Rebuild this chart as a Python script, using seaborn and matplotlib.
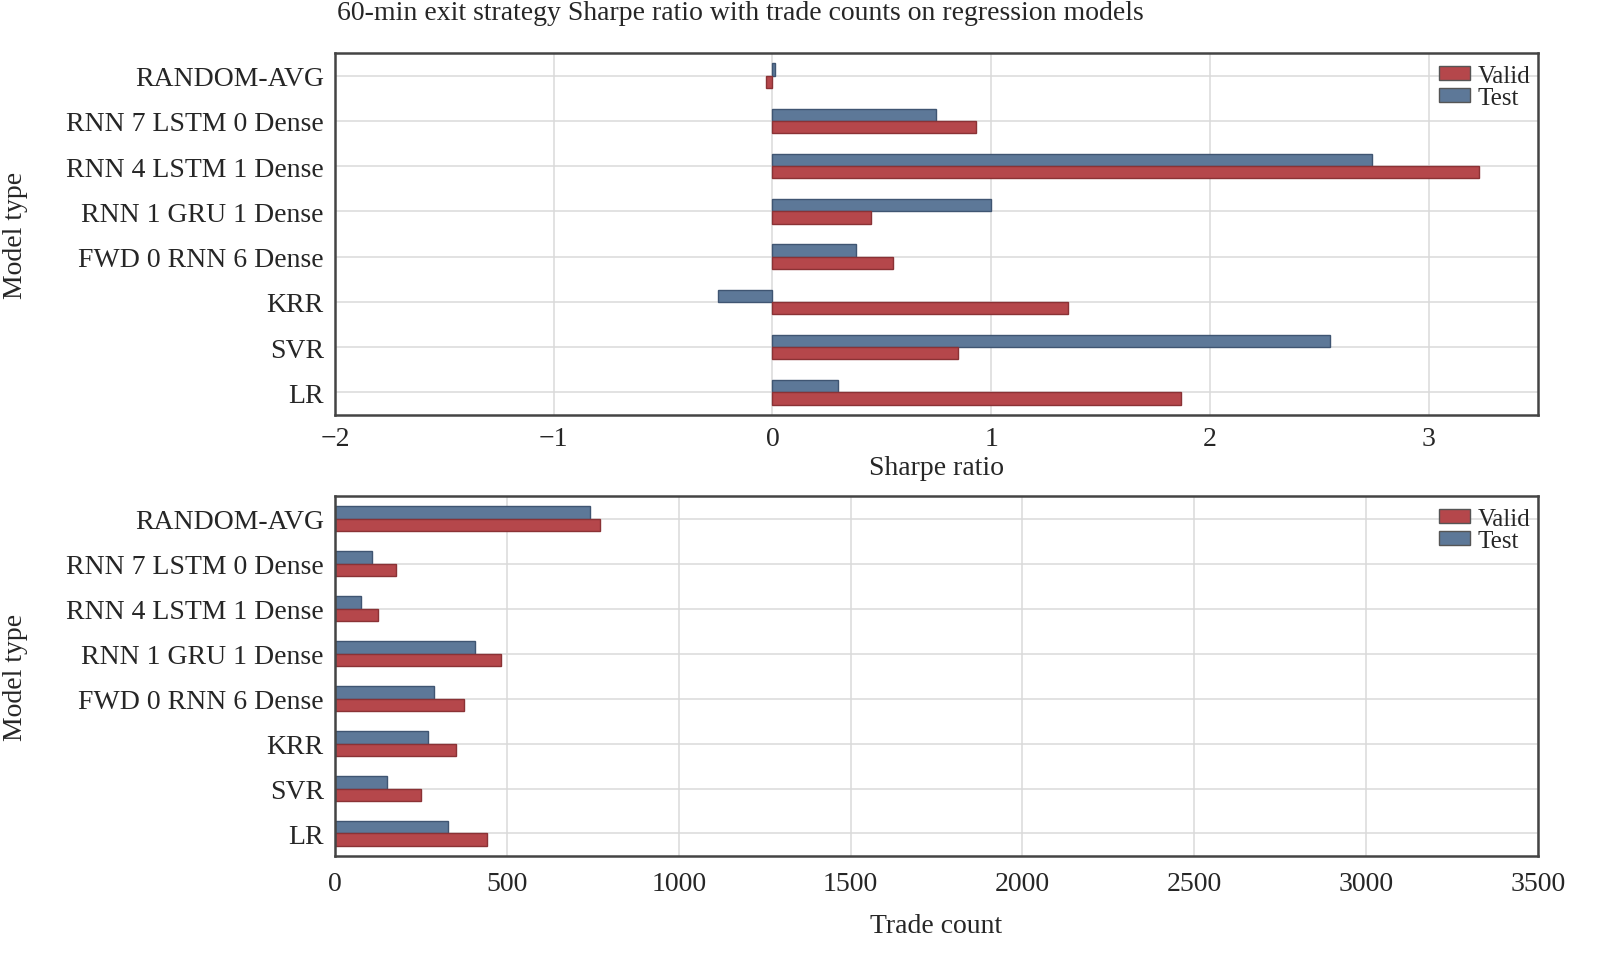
import matplotlib
matplotlib.use("Agg")
import matplotlib.pyplot as plt
import seaborn as sns
import pandas as pd

models = ["RANDOM-AVG", "RNN 7 LSTM 0 Dense", "RNN 4 LSTM 1 Dense", "RNN 1 GRU 1 Dense",
          "FWD 0 RNN 6 Dense", "KRR", "SVR", "LR"]
sharpe_valid = [-0.03, 0.93, 3.23, 0.45, 0.55, 1.35, 0.85, 1.87]
sharpe_test = [0.01, 0.75, 2.74, 1.00, 0.38, -0.25, 2.55, 0.30]
trades_valid = [772, 178, 126, 482, 374, 351, 249, 442]
trades_test = [743, 108, 76, 406, 287, 272, 152, 330]

title = "60-min exit strategy Sharpe ratio with trade counts on regression models"

sns.set_theme(style="whitegrid")
plt.rcParams["font.family"] = ["Liberation Serif", "DejaVu Serif"]

palette = {"Valid": "#b5474b", "Test": "#5d7898"}
edges = {"Valid": "#8a3235", "Test": "#3f5572"}

def long_df(valid, test):
    rows = []
    for m, v, t in zip(models, valid, test):
        rows.append({"model": m, "set": "Test", "value": t})
        rows.append({"model": m, "set": "Valid", "value": v})
    return pd.DataFrame(rows)

fig = plt.figure(figsize=(16.23, 9.70), dpi=100)
ax1 = fig.add_axes([0.2064, 0.5711, 0.7412, 0.3732])
ax2 = fig.add_axes([0.2064, 0.1165, 0.7412, 0.3711])

def draw(ax, df, xlim, xticks, xlabel, xpad, labelpad):
    sns.barplot(data=df, y="model", x="value", hue="set", hue_order=["Test", "Valid"],
                order=models, palette=palette, orient="h", width=0.54, ax=ax,
                saturation=1, errorbar=None, linewidth=1.0, edgecolor="#555555")
    for cont, key in zip(ax.containers, ["Test", "Valid"]):
        for p in cont.patches:
            p.set_edgecolor(edges[key])
    ax.set_xlim(*xlim)
    ax.set_ylim(7.5, -0.5)
    ax.set_xticks(xticks)
    ax.set_xticklabels([("\u2212" + str(abs(t))) if t < 0 else str(t) for t in xticks])
    ax.set_xlabel(xlabel, fontsize=20, labelpad=labelpad)
    ax.set_ylabel("Model type", fontsize=20)
    ax.yaxis.set_label_coords(-0.255, 0.5)
    ax.tick_params(axis="y", labelsize=20, length=0, pad=8)
    ax.tick_params(axis="x", labelsize=20, length=0, pad=xpad)
    ax.grid(True, color="#dadada", linewidth=1.1)
    ax.set_axisbelow(True)
    for s in ax.spines.values():
        s.set_color("#444444")
        s.set_linewidth(1.8)
    h, l = ax.get_legend_handles_labels()
    idx = [l.index("Valid"), l.index("Test")]
    leg = ax.legend([h[i] for i in idx], [l[i] for i in idx], loc="upper right",
                    bbox_to_anchor=(0.999, 0.985), frameon=False,
                    fontsize=18, handlelength=1.25, handleheight=0.5, labelspacing=0.0,
                    handletextpad=0.3, borderaxespad=0.0, borderpad=0.25)

draw(ax1, long_df(sharpe_valid, sharpe_test), (-2, 3.5), [-2, -1, 0, 1, 2, 3], "Sharpe ratio", 8, 3)
draw(ax2, long_df(trades_valid, trades_test), (0, 3500), [0, 500, 1000, 1500, 2000, 2500, 3000, 3500], "Trade count", 11, 12)

fig.text(0.456, 1 - 13 / 970, title, ha="center", va="center", fontsize=20)

fig.savefig("out.png", dpi=100, facecolor="white")
